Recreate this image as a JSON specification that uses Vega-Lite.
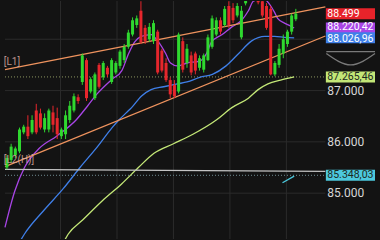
{
  "$schema": "https://vega.github.io/schema/vega-lite/v6.json",
  "width": 380,
  "height": 240,
  "autosize": {"type": "fit", "contains": "padding"},
  "padding": 0,
  "background": "#131313",
  "config": {"view": {"stroke": null}},
  "datasets": {
    "gridv": [{"i": 12.79}, {"i": 26.28}, {"i": 39.77}, {"i": 53.26}, {"i": 66.74}],
    "gridh": [{"p": 85}, {"p": 86}, {"p": 87}, {"p": 88}],
    "dots": [{"p": 87.26546, "s": "ma60"}, {"p": 85.34803, "s": "cyan"}],
    "candles": [
      {"i": 0, "o": 85.5, "h": 85.741, "l": 85.463, "c": 85.685},
      {"i": 1, "o": 85.648, "h": 85.963, "l": 85.592, "c": 85.907},
      {"i": 2, "o": 85.741, "h": 85.907, "l": 85.685, "c": 85.87},
      {"i": 3, "o": 85.815, "h": 86.278, "l": 85.778, "c": 86.241},
      {"i": 4, "o": 86.185, "h": 86.333, "l": 86.148, "c": 86.296},
      {"i": 5, "o": 86.296, "h": 86.518, "l": 86.055, "c": 86.111},
      {"i": 6, "o": 86.185, "h": 86.518, "l": 86.148, "c": 86.426},
      {"i": 7, "o": 86.611, "h": 86.741, "l": 86.148, "c": 86.185},
      {"i": 8, "o": 86.555, "h": 86.648, "l": 86.241, "c": 86.278},
      {"i": 9, "o": 86.241, "h": 86.555, "l": 86.185, "c": 86.463},
      {"i": 10, "o": 86.241, "h": 86.648, "l": 86.185, "c": 86.611},
      {"i": 11, "o": 86.574, "h": 86.704, "l": 86.185, "c": 86.333},
      {"i": 12, "o": 86.463, "h": 86.667, "l": 86.055, "c": 86.148},
      {"i": 13, "o": 86.111, "h": 86.278, "l": 86.055, "c": 86.241},
      {"i": 14, "o": 86.148, "h": 86.611, "l": 86.055, "c": 86.518},
      {"i": 15, "o": 86.426, "h": 86.796, "l": 86.37, "c": 86.704},
      {"i": 16, "o": 86.611, "h": 86.944, "l": 86.574, "c": 86.889},
      {"i": 17, "o": 86.87, "h": 86.926, "l": 86.741, "c": 86.796},
      {"i": 18, "o": 87.167, "h": 87.722, "l": 87.111, "c": 87.685},
      {"i": 19, "o": 87.593, "h": 87.63, "l": 86.796, "c": 86.852},
      {"i": 20, "o": 86.981, "h": 87.259, "l": 86.944, "c": 87.222},
      {"i": 21, "o": 86.852, "h": 87.352, "l": 86.815, "c": 87.315},
      {"i": 22, "o": 87.5, "h": 87.537, "l": 87.037, "c": 87.074},
      {"i": 23, "o": 87.259, "h": 87.574, "l": 87.204, "c": 87.537},
      {"i": 24, "o": 87.444, "h": 87.481, "l": 87.259, "c": 87.315},
      {"i": 25, "o": 87.167, "h": 87.63, "l": 87.13, "c": 87.593},
      {"i": 26, "o": 87.352, "h": 87.574, "l": 87.315, "c": 87.537},
      {"i": 27, "o": 87.481, "h": 87.796, "l": 87.426, "c": 87.759},
      {"i": 28, "o": 87.593, "h": 87.907, "l": 87.537, "c": 87.852},
      {"i": 29, "o": 87.852, "h": 88.185, "l": 87.815, "c": 88.13},
      {"i": 30, "o": 88.092, "h": 88.426, "l": 88.055, "c": 88.37},
      {"i": 31, "o": 88.278, "h": 88.463, "l": 88.222, "c": 88.407},
      {"i": 32, "o": 88.555, "h": 88.741, "l": 87.907, "c": 87.944},
      {"i": 33, "o": 88.222, "h": 88.278, "l": 87.907, "c": 87.963},
      {"i": 34, "o": 88.0, "h": 88.315, "l": 87.944, "c": 88.241},
      {"i": 35, "o": 87.963, "h": 88.37, "l": 87.907, "c": 88.315},
      {"i": 36, "o": 88.148, "h": 88.185, "l": 87.315, "c": 87.352},
      {"i": 37, "o": 87.778, "h": 87.815, "l": 87.352, "c": 87.389},
      {"i": 38, "o": 87.537, "h": 87.63, "l": 87.167, "c": 87.204},
      {"i": 39, "o": 87.204, "h": 87.259, "l": 86.852, "c": 86.926},
      {"i": 40, "o": 87.111, "h": 87.204, "l": 86.852, "c": 86.889},
      {"i": 41, "o": 86.981, "h": 88.13, "l": 86.944, "c": 88.092},
      {"i": 42, "o": 87.963, "h": 88.037, "l": 87.352, "c": 87.407},
      {"i": 43, "o": 87.537, "h": 87.907, "l": 87.444, "c": 87.815},
      {"i": 44, "o": 87.685, "h": 87.759, "l": 87.296, "c": 87.352},
      {"i": 45, "o": 87.722, "h": 87.759, "l": 87.315, "c": 87.389},
      {"i": 46, "o": 87.444, "h": 87.685, "l": 87.389, "c": 87.63},
      {"i": 47, "o": 87.407, "h": 87.722, "l": 87.352, "c": 87.685},
      {"i": 48, "o": 87.593, "h": 88.092, "l": 87.574, "c": 88.037},
      {"i": 49, "o": 87.852, "h": 88.463, "l": 87.815, "c": 88.407},
      {"i": 50, "o": 88.092, "h": 88.426, "l": 88.055, "c": 88.37},
      {"i": 51, "o": 88.37, "h": 88.426, "l": 88.092, "c": 88.148},
      {"i": 52, "o": 88.278, "h": 88.648, "l": 88.241, "c": 88.592},
      {"i": 53, "o": 88.648, "h": 88.741, "l": 88.222, "c": 88.278},
      {"i": 54, "o": 88.611, "h": 88.704, "l": 88.315, "c": 88.37},
      {"i": 55, "o": 88.463, "h": 88.704, "l": 88.426, "c": 88.648},
      {"i": 56, "o": 88.037, "h": 88.648, "l": 88.0, "c": 88.555},
      {"i": 57, "o": 88.7, "h": 88.9, "l": 88.66, "c": 88.85},
      {"i": 58, "o": 88.85, "h": 89.0, "l": 88.78, "c": 88.95},
      {"i": 59, "o": 88.95, "h": 89.02, "l": 88.75, "c": 88.8},
      {"i": 60, "o": 88.8, "h": 88.88, "l": 88.68, "c": 88.72},
      {"i": 61, "o": 88.741, "h": 88.8, "l": 88.426, "c": 88.463},
      {"i": 62, "o": 88.648, "h": 88.704, "l": 88.185, "c": 88.222},
      {"i": 63, "o": 88.592, "h": 88.648, "l": 87.296, "c": 87.315},
      {"i": 64, "o": 87.315, "h": 87.574, "l": 87.278, "c": 87.537},
      {"i": 65, "o": 87.5, "h": 87.907, "l": 87.444, "c": 87.815},
      {"i": 66, "o": 87.722, "h": 88.092, "l": 87.63, "c": 88.0},
      {"i": 67, "o": 87.907, "h": 88.185, "l": 87.852, "c": 88.148},
      {"i": 68, "o": 88.148, "h": 88.5, "l": 88.092, "c": 88.463},
      {"i": 69, "o": 88.389, "h": 88.592, "l": 88.352, "c": 88.499}
    ],
    "lines": [
      {"s": "ma5", "i": -0.47, "p": 84.333}, {"s": "ma5", "i": 1.86, "p": 85.037}, {"s": "ma5", "i": 4.19, "p": 85.5},
      {"s": "ma5", "i": 7.67, "p": 85.87}, {"s": "ma5", "i": 11.86, "p": 86.111}, {"s": "ma5", "i": 16.51, "p": 86.426},
      {"s": "ma5", "i": 19.3, "p": 86.704}, {"s": "ma5", "i": 21.63, "p": 86.944}, {"s": "ma5", "i": 25.12, "p": 87.222},
      {"s": "ma5", "i": 27.44, "p": 87.389}, {"s": "ma5", "i": 29.07, "p": 87.722}, {"s": "ma5", "i": 30.47, "p": 87.944},
      {"s": "ma5", "i": 32.09, "p": 88.055}, {"s": "ma5", "i": 34.42, "p": 88.092}, {"s": "ma5", "i": 36.05, "p": 87.963},
      {"s": "ma5", "i": 37.91, "p": 87.722}, {"s": "ma5", "i": 39.07, "p": 87.537}, {"s": "ma5", "i": 40.7, "p": 87.481},
      {"s": "ma5", "i": 43.02, "p": 87.537}, {"s": "ma5", "i": 46.05, "p": 87.574}, {"s": "ma5", "i": 47.67, "p": 87.722},
      {"s": "ma5", "i": 48.84, "p": 87.944}, {"s": "ma5", "i": 51.4, "p": 88.092}, {"s": "ma5", "i": 53.72, "p": 88.241},
      {"s": "ma5", "i": 56.05, "p": 88.37}, {"s": "ma5", "i": 57.67, "p": 88.555}, {"s": "ma5", "i": 58.84, "p": 88.741},
      {"s": "ma5", "i": 61.16, "p": 88.796}, {"s": "ma5", "i": 63.02, "p": 88.648}, {"s": "ma5", "i": 63.95, "p": 88.518},
      {"s": "ma5", "i": 64.65, "p": 88.407}, {"s": "ma5", "i": 66.28, "p": 88.315}, {"s": "ma5", "i": 67.67, "p": 88.259},
      {"s": "ma5", "i": 68.6, "p": 88.22},
      {"s": "ma10", "i": 3.4, "p": 84.1}, {"s": "ma10", "i": 4.19, "p": 84.204}, {"s": "ma10", "i": 8.84, "p": 84.667},
      {"s": "ma10", "i": 13.49, "p": 85.092}, {"s": "ma10", "i": 17.44, "p": 85.5}, {"s": "ma10", "i": 21.63, "p": 85.907},
      {"s": "ma10", "i": 25.12, "p": 86.278}, {"s": "ma10", "i": 26.74, "p": 86.426}, {"s": "ma10", "i": 28.6, "p": 86.574},
      {"s": "ma10", "i": 29.77, "p": 86.667}, {"s": "ma10", "i": 32.09, "p": 86.889}, {"s": "ma10", "i": 34.42, "p": 87.018},
      {"s": "ma10", "i": 37.44, "p": 87.074}, {"s": "ma10", "i": 40.7, "p": 87.13}, {"s": "ma10", "i": 43.02, "p": 87.167},
      {"s": "ma10", "i": 46.05, "p": 87.259}, {"s": "ma10", "i": 49.07, "p": 87.315}, {"s": "ma10", "i": 52.33, "p": 87.481},
      {"s": "ma10", "i": 55.35, "p": 87.722}, {"s": "ma10", "i": 58.37, "p": 87.963}, {"s": "ma10", "i": 61.63, "p": 88.055},
      {"s": "ma10", "i": 63.95, "p": 88.055}, {"s": "ma10", "i": 66.28, "p": 88.037}, {"s": "ma10", "i": 68.6, "p": 88.027},
      {"s": "ma60", "i": 13.9, "p": 84.1}, {"s": "ma60", "i": 14.65, "p": 84.204}, {"s": "ma60", "i": 18.14, "p": 84.481},
      {"s": "ma60", "i": 22.79, "p": 84.852}, {"s": "ma60", "i": 27.44, "p": 85.185}, {"s": "ma60", "i": 31.4, "p": 85.5},
      {"s": "ma60", "i": 35.12, "p": 85.778}, {"s": "ma60", "i": 39.77, "p": 85.963}, {"s": "ma60", "i": 44.42, "p": 86.148},
      {"s": "ma60", "i": 50.0, "p": 86.426}, {"s": "ma60", "i": 53.72, "p": 86.667}, {"s": "ma60", "i": 57.67, "p": 86.852},
      {"s": "ma60", "i": 60.0, "p": 87.018}, {"s": "ma60", "i": 62.33, "p": 87.13}, {"s": "ma60", "i": 65.35, "p": 87.204},
      {"s": "ma60", "i": 68.6, "p": 87.265},
      {"s": "up", "i": -0.465, "p": 87.407}, {"s": "up", "i": 76.05, "p": 88.633},
      {"s": "lo", "i": -0.465, "p": 85.519}, {"s": "lo", "i": 76.05, "p": 88.063},
      {"s": "gray", "i": -0.465, "p": 85.463}, {"s": "gray", "i": 76.05, "p": 85.426},
      {"s": "cyan", "i": 65.81, "p": 85.204}, {"s": "cyan", "i": 68.6, "p": 85.333},
      {"s": "tri", "i": 76.28, "p": 87.759}, {"s": "tri", "i": 87.907, "p": 87.759},
      {"s": "tri2", "i": 76.28, "p": 87.722}, {"s": "tri2", "i": 82.09, "p": 87.5}, {"s": "tri2", "i": 87.907, "p": 87.722}
    ],
    "tags": [
      {"t": "88.499", "p": 88.499, "s": "last"},
      {"t": "88.220,42", "p": 88.22042, "s": "ma5"},
      {"t": "88.026,96", "p": 88.02696, "s": "ma10"},
      {"t": "87.265,46", "p": 87.26546, "s": "ma60"},
      {"t": "85.348,03", "p": 85.34803, "s": "cyan"}
    ],
    "ticks": [{"t": "87.000", "p": 87}, {"t": "86.000", "p": 86}, {"t": "85.000", "p": 85}],
    "notes": [{"t": "[L1]", "i": -0.75, "p": 87.55}, {"t": "[L2(H)]", "i": -0.75, "p": 85.64}]
  },
  "layer": [
    {
      "data": {"name": "gridv"},
      "mark": {"type": "rule", "color": "#2b2b2b", "strokeWidth": 1},
      "encoding": {
        "x": {"field": "i", "type": "quantitative", "scale": {"domain": [-0.465, 87.907], "nice": false, "zero": false}, "axis": null}
      }
    },
    {
      "data": {"name": "gridh"},
      "mark": {"type": "rule", "color": "#2b2b2b", "strokeWidth": 1},
      "encoding": {
        "y": {"field": "p", "type": "quantitative", "scale": {"domain": [84.204, 88.648], "nice": false, "zero": false}, "axis": null},
        "x": {"datum": -0.465, "type": "quantitative", "scale": {"domain": [-0.465, 87.907], "nice": false, "zero": false}, "axis": null},
        "x2": {"datum": 76.05}
      }
    },
    {
      "data": {"name": "dots"},
      "mark": {"type": "rule", "strokeWidth": 1, "strokeDash": [1, 2]},
      "encoding": {
        "y": {"field": "p", "type": "quantitative", "scale": {"domain": [84.204, 88.648], "nice": false, "zero": false}, "axis": null},
        "x": {"datum": -0.465, "type": "quantitative", "scale": {"domain": [-0.465, 87.907], "nice": false, "zero": false}, "axis": null},
        "x2": {"datum": 76.05},
        "color": {"condition": {"test": "datum.s === 'ma60'", "value": "#8c9660"}, "value": "#6f8a90"}
      }
    },
    {
      "data": {"name": "lines"},
      "mark": {"type": "line", "strokeWidth": 1.3, "interpolate": "monotone", "clip": true},
      "encoding": {
        "x": {"field": "i", "type": "quantitative", "scale": {"domain": [-0.465, 87.907], "nice": false, "zero": false}, "axis": null},
        "y": {"field": "p", "type": "quantitative", "scale": {"domain": [84.204, 88.648], "nice": false, "zero": false}, "axis": null},
        "detail": {"field": "s", "type": "nominal"},
        "color": {
          "field": "s", "type": "nominal", "legend": null,
          "scale": {
            "domain": ["last", "ma5", "ma10", "ma60", "up", "lo", "gray", "cyan", "tri", "tri2"],
            "range": ["#e8232a", "#a845e6", "#3f7fe8", "#c3e777", "#ef935e", "#ef935e", "#c4c4c4", "#4cc9dd", "#7a7a7a", "#7a7a7a"]
          }
        }
      }
    },
    {
      "data": {"name": "candles"},
      "mark": {"type": "rule", "strokeWidth": 1, "clip": true},
      "encoding": {
        "x": {"field": "i", "type": "quantitative", "scale": {"domain": [-0.465, 87.907], "nice": false, "zero": false}, "axis": null},
        "y": {"field": "l", "type": "quantitative", "scale": {"domain": [84.204, 88.648], "nice": false, "zero": false}, "axis": null},
        "y2": {"field": "h"},
        "color": {"condition": {"test": "datum.c >= datum.o", "value": "#2fd82f"}, "value": "#e6262c"}
      }
    },
    {
      "data": {"name": "candles"},
      "mark": {"type": "bar", "width": 3, "clip": true},
      "encoding": {
        "x": {"field": "i", "type": "quantitative", "scale": {"domain": [-0.465, 87.907], "nice": false, "zero": false}, "axis": null},
        "y": {"field": "o", "type": "quantitative", "scale": {"domain": [84.204, 88.648], "nice": false, "zero": false}, "axis": null},
        "y2": {"field": "c"},
        "color": {"condition": {"test": "datum.c >= datum.o", "value": "#2fd82f"}, "value": "#e6262c"}
      }
    },
    {
      "data": {"name": "tags"},
      "mark": {"type": "bar", "orient": "horizontal", "size": 11},
      "encoding": {
        "y": {"field": "p", "type": "quantitative", "scale": {"domain": [84.204, 88.648], "nice": false, "zero": false}, "axis": null},
        "x": {"datum": 76.17, "type": "quantitative", "scale": {"domain": [-0.465, 87.907], "nice": false, "zero": false}, "axis": null},
        "x2": {"datum": 87.907},
        "color": {"field": "s", "type": "nominal", "legend": null}
      }
    },
    {
      "data": {"name": "tags"},
      "transform": [{"filter": "datum.s !== 'ma5' && datum.s !== 'ma10'"}],
      "mark": {"type": "text", "align": "left", "baseline": "middle", "font": "Roboto", "fontSize": 10.5, "dx": 1},
      "encoding": {
        "y": {"field": "p", "type": "quantitative", "scale": {"domain": [84.204, 88.648], "nice": false, "zero": false}, "axis": null},
        "x": {"datum": 76.28, "type": "quantitative", "scale": {"domain": [-0.465, 87.907], "nice": false, "zero": false}, "axis": null},
        "text": {"field": "t"},
        "color": {"condition": {"test": "datum.s === 'ma60' || datum.s === 'cyan'", "value": "#1c2a22"}, "value": "#ffffff"}
      }
    },
    {
      "data": {"name": "tags"},
      "transform": [{"filter": "datum.s === 'ma5'"}],
      "mark": {"type": "text", "align": "left", "baseline": "middle", "font": "Roboto", "fontSize": 10.5, "dx": 1, "dy": -1, "color": "#ffffff"},
      "encoding": {
        "y": {"field": "p", "type": "quantitative", "scale": {"domain": [84.204, 88.648], "nice": false, "zero": false}, "axis": null},
        "x": {"datum": 76.28, "type": "quantitative", "scale": {"domain": [-0.465, 87.907], "nice": false, "zero": false}, "axis": null},
        "text": {"field": "t"}
      }
    },
    {
      "data": {"name": "tags"},
      "transform": [{"filter": "datum.s === 'ma10'"}],
      "mark": {"type": "text", "align": "left", "baseline": "middle", "font": "Roboto", "fontSize": 10.5, "dx": 1, "dy": 1, "color": "#ffffff"},
      "encoding": {
        "y": {"field": "p", "type": "quantitative", "scale": {"domain": [84.204, 88.648], "nice": false, "zero": false}, "axis": null},
        "x": {"datum": 76.28, "type": "quantitative", "scale": {"domain": [-0.465, 87.907], "nice": false, "zero": false}, "axis": null},
        "text": {"field": "t"}
      }
    },
    {
      "data": {"name": "ticks"},
      "mark": {"type": "text", "align": "left", "baseline": "middle", "font": "Roboto", "fontSize": 12, "dx": 1, "color": "#d6d6d6"},
      "encoding": {
        "y": {"field": "p", "type": "quantitative", "scale": {"domain": [84.204, 88.648], "nice": false, "zero": false}, "axis": null},
        "x": {"datum": 76.28, "type": "quantitative", "scale": {"domain": [-0.465, 87.907], "nice": false, "zero": false}, "axis": null},
        "text": {"field": "t"}
      }
    },
    {
      "data": {"name": "notes"},
      "mark": {"type": "text", "align": "left", "baseline": "middle", "font": "Roboto", "fontSize": 10, "color": "#d8aaa0", "opacity": 0.85},
      "encoding": {
        "y": {"field": "p", "type": "quantitative", "scale": {"domain": [84.204, 88.648], "nice": false, "zero": false}, "axis": null},
        "x": {"field": "i", "type": "quantitative", "scale": {"domain": [-0.465, 87.907], "nice": false, "zero": false}, "axis": null},
        "text": {"field": "t"}
      }
    }
  ]
}
